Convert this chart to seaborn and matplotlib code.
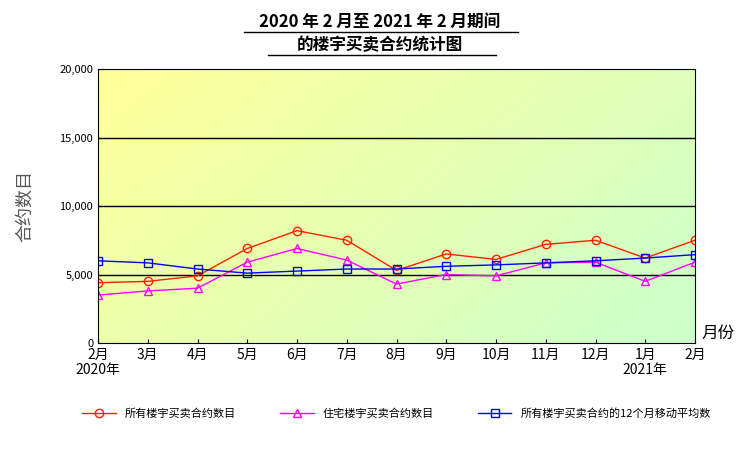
import numpy as np
import pandas as pd
import matplotlib
matplotlib.use("Agg")
import matplotlib.pyplot as plt
import seaborn as sns
from matplotlib.colors import LinearSegmentedColormap

plt.rcParams["font.family"] = ["Noto Sans CJK SC", "DejaVu Sans"]

months = ["2月\n2020年", "3月", "4月", "5月", "6月", "7月", "8月", "9月", "10月", "11月", "12月", "1月\n2021年", "2月"]
all_contracts = [4400, 4500, 4900, 6900, 8200, 7500, 5300, 6500, 6100, 7200, 7500, 6200, 7500]
res_contracts = [3500, 3800, 4000, 5900, 6900, 6050, 4300, 5000, 4900, 5850, 5900, 4500, 5900]
moving_avg = [6000, 5850, 5400, 5100, 5250, 5400, 5400, 5600, 5700, 5850, 6000, 6200, 6450]
names = ["所有楼宇买卖合约数目", "住宅楼宇买卖合约数目", "所有楼宇买卖合约的12个月移动平均数"]

df = pd.DataFrame({"x": list(range(len(months))) * 3,
                   "v": all_contracts + res_contracts + moving_avg,
                   "s": sum([[n] * len(months) for n in names], [])})

fig = plt.figure(figsize=(7.56, 4.54), dpi=100)
ax = fig.add_axes([98/756, 1-343/454, 597/756, 274/454])
cmap = LinearSegmentedColormap.from_list("g", ["#ffff99", "#ccffcc"])
grad = np.add.outer(np.linspace(0.35, 0, 50), np.linspace(0, 0.65, 100))
ax.imshow(grad, cmap=cmap, aspect="auto", extent=[0, 12, 0, 20000], origin="lower", zorder=0, vmin=0, vmax=1)

styles = {names[0]: ("#ff2000", "o"), names[1]: ("#ff00ff", "^"), names[2]: ("#0000ff", "s")}
for n in names:
    c, m = styles[n]
    sub = df[df.s == n]
    sns.lineplot(data=sub, x="x", y="v", ax=ax, color=c, marker=m, markersize=6,
                 markerfacecolor="none", markeredgecolor=c, markeredgewidth=1, lw=1, label=n)

for yv in [5000, 10000, 15000]:
    ax.axhline(yv, color="black", lw=1, zorder=1)
ax.set_xlim(0, 12)
ax.set_ylim(0, 20000)
ax.set_xticks(range(13))
ax.set_xticklabels(months, fontsize=10, linespacing=1.1)
ax.set_yticks([0, 5000, 10000, 15000, 20000])
ax.set_yticklabels(["0", "5,000", "10,000", "15,000", "20,000"], fontsize=8)
ax.set_xlabel("")
ax.set_ylabel("合约数目", fontsize=13, color="#555555", labelpad=18)
for s in ax.spines.values():
    s.set_color("black")
ax.tick_params(direction="in", length=3)
fig.text(718/756, 1-333/454, "月份", fontsize=12, ha="center", va="center")
t1 = fig.text(380/756, 1-22/454, "2020 年 2 月至 2021 年 2 月期间", fontsize=12, ha="center", va="center", weight="bold")
t2 = fig.text(380/756, 1-45/454, "的楼宇买卖合约统计图", fontsize=12, ha="center", va="center", weight="bold")
fig.add_artist(plt.Line2D([244/756, 518/756], [1-32/454, 1-32/454], color="black", lw=1))
fig.add_artist(plt.Line2D([268/756, 496/756], [1-55/454, 1-55/454], color="black", lw=1))
ax.legend(loc="upper center", bbox_to_anchor=(0.5, -0.2), ncol=3, frameon=False, fontsize=8, handlelength=3, columnspacing=4)
fig.savefig("out.png", dpi=100)
